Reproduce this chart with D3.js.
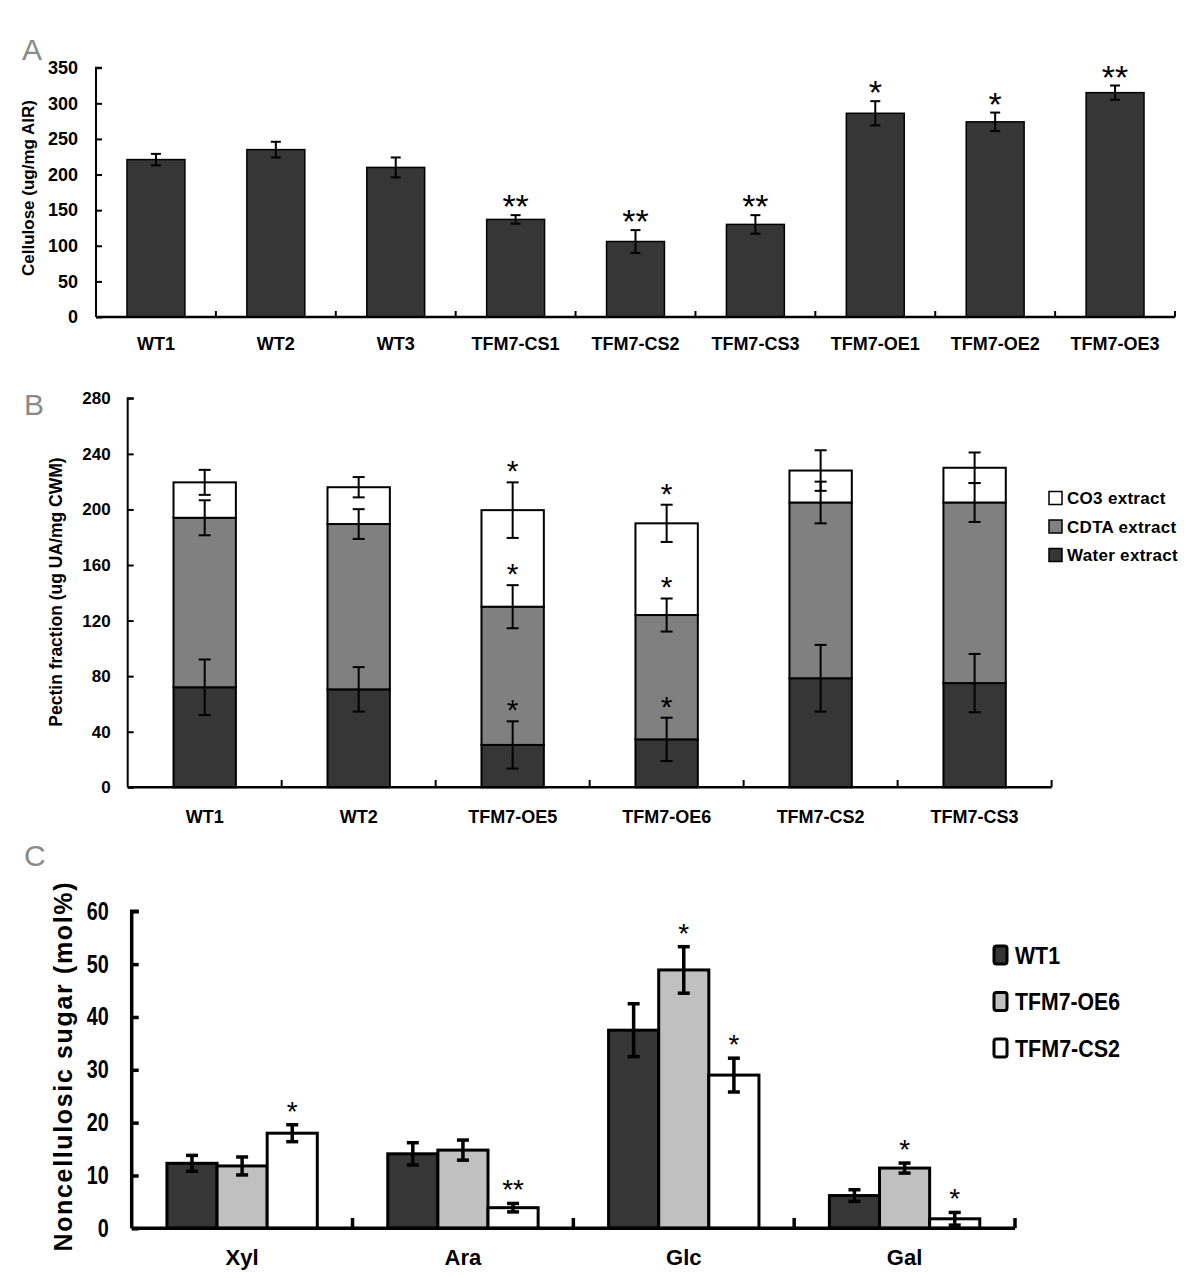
<!DOCTYPE html>
<html><head><meta charset="utf-8">
<script src="https://cdn.jsdelivr.net/npm/d3@7"></script>
<style>
body{margin:0;background:#fff;}
svg{display:block;}
text{font-family:"Liberation Sans",Arial,sans-serif;}
</style></head>
<body>
<svg id="chart" width="1200" height="1278"></svg>
<script>
// ---------- Panel A data ----------
const catA = ["WT1","WT2","WT3","TFM7-CS1","TFM7-CS2","TFM7-CS3","TFM7-OE1","TFM7-OE2","TFM7-OE3"];
const celluloseMean = [221,235,210,137,106,130,286,274,315];
const celluloseErr  = [8,11,14,6,16,13,17,13,10];
const celluloseSig  = ["","","","**","**","**","*","*","**"];
const ticksA = [0,50,100,150,200,250,300,350];

// ---------- Panel B data ----------
const catB = ["WT1","WT2","TFM7-OE5","TFM7-OE6","TFM7-CS2","TFM7-CS3"];
const seriesB = ["Water extract","CDTA extract","CO3 extract"];
const waterMean = [72,70.5,30.5,34.5,78.5,75];
const waterErr  = [20,16,17,15.6,24,21];
const cdtaMean  = [122,119,99.5,89.5,126.5,130];
const cdtaErr   = [12.6,10.7,15.5,11.9,15,14];
const co3Mean   = [25.5,26.5,69.5,66,23,25];
const co3Err    = [9,7.3,20,13.4,14.6,11];
const sigB      = ["","","*","*","",""];
const ticksB = [0,40,80,120,160,200,240,280];

// ---------- Panel C data ----------
const sugars = ["Xyl","Ara","Glc","Gal"];
const seriesC = ["WT1","TFM7-OE6","TFM7-CS2"];
const wt1Mean = [12.3,14.1,37.5,6.2];
const wt1Err  = [1.5,2.1,5.0,1.1];
const oe6Mean = [11.8,14.8,48.9,11.4];
const oe6Err  = [1.7,1.9,4.4,0.95];
const cs2Mean = [18.0,3.9,29.0,1.8];
const cs2Err  = [1.6,0.8,3.2,1.2];
const wt1Sig = ["","","",""];
const oe6Sig = ["","","*","*"];
const cs2Sig = ["*","**","*","*"];
const ticksC = [0,10,20,30,40,50,60];

const svg = d3.select("#chart");
const DARK = "#363636", MID = "#808080", LIGHT = "#c0c0c0";
const boldFont = '"Liberation Sans",Arial,sans-serif';

function panelLetter(t, x, y, size){
  svg.append("text").attr("x",x).attr("y",y).text(t)
    .attr("font-size",size).attr("fill","#8a8a8a").attr("font-family",'"Open Sans","DejaVu Sans",sans-serif').attr("font-weight",300);
}

// =============== Panel A ===============
{
  const x = d3.scaleBand().domain(catA).range([96,1175]).paddingInner(0.517).paddingOuter(0.2585);
  const y = d3.scaleLinear().domain([0,350]).range([317,67.7]);
  const g = svg.append("g");
  panelLetter("A", 22, 60, 30);
  g.selectAll("rect.bar").data(catA).join("rect")
    .attr("x",d=>x(d)).attr("width",x.bandwidth())
    .attr("y",(d,i)=>y(celluloseMean[i])).attr("height",(d,i)=>y(0)-y(celluloseMean[i]))
    .attr("fill",DARK).attr("stroke","#000").attr("stroke-width",1.5);
  catA.forEach((d,i)=>{
    const cx = x(d)+x.bandwidth()/2, y1=y(celluloseMean[i]+celluloseErr[i]), y2=y(celluloseMean[i]-celluloseErr[i]);
    g.append("line").attr("x1",cx).attr("x2",cx).attr("y1",y1).attr("y2",y2).attr("stroke","#000").attr("stroke-width",2);
    [y1,y2].forEach(yy=>g.append("line").attr("x1",cx-5).attr("x2",cx+5).attr("y1",yy).attr("y2",yy).attr("stroke","#000").attr("stroke-width",2));
    if(celluloseSig[i]) g.append("text").attr("x",cx).attr("y",y1+3).attr("text-anchor","middle")
      .attr("font-size",34).text(celluloseSig[i]);
  });
  const ya = g.append("g").attr("transform","translate(96,0)")
    .call(d3.axisRight(y).tickValues(ticksA).tickSize(6).tickFormat(d3.format("d")));
  ya.select(".domain").attr("stroke-width",2).attr("d","M6,67.7H0V317");
  ya.selectAll(".tick line").attr("stroke-width",2);
  ya.selectAll(".tick text").attr("x",-18).attr("text-anchor","end").attr("font-size",18).attr("font-weight","bold").attr("font-family",boldFont).attr("fill","#000");
  const xa = g.append("g").attr("transform","translate(0,317)")
    .call(d3.axisBottom(x).tickSize(0).tickPadding(20));
  xa.select(".domain").attr("stroke-width",2.5).attr("d","M96,0H1175");
  xa.selectAll(".tick text").attr("font-size",18).attr("font-weight","bold").attr("font-family",boldFont).attr("fill","#000").attr("dy","0.72em");
  const boundsA = catA.map(d=>x(d)+x.bandwidth()/2+x.step()/2);
  g.selectAll("line.bt").data(boundsA).join("line").attr("x1",d=>d).attr("x2",d=>d).attr("y1",317).attr("y2",311).attr("stroke","#000").attr("stroke-width",2);
  g.append("text").attr("transform","translate(34,188) rotate(-90)").attr("text-anchor","middle")
    .attr("font-size",17).attr("font-weight","bold").text("Cellulose (ug/mg AIR)");
}

// =============== Panel B ===============
{
  const x = d3.scaleBand().domain(catB).range([127.7,1051.6]).paddingInner(0.595).paddingOuter(0.2975);
  const y = d3.scaleLinear().domain([0,280]).range([787.3,398.3]);
  const g = svg.append("g");
  panelLetter("B", 24, 415, 30);
  const fills = [DARK, MID, "#fff"];
  const errs = [waterErr, cdtaErr, co3Err];
  const stackData = catB.map((c,i)=>({cat:c, "Water extract":waterMean[i], "CDTA extract":cdtaMean[i], "CO3 extract":co3Mean[i]}));
  const stacked = d3.stack().keys(seriesB)(stackData);
  stacked.forEach((layer,k)=>{
    g.selectAll("rect.s"+k).data(layer).join("rect")
      .attr("x",d=>x(d.data.cat)).attr("width",x.bandwidth())
      .attr("y",d=>y(d[1])).attr("height",d=>y(d[0])-y(d[1]))
      .attr("fill",fills[k]).attr("stroke","#000").attr("stroke-width",2);
  });
  stacked.forEach((layer,k)=>{
    layer.forEach((d,i)=>{
      const cx = x(d.data.cat)+x.bandwidth()/2;
      const y1 = y(d[1]+errs[k][i]), y2 = y(d[1]-errs[k][i]);
      g.append("line").attr("x1",cx).attr("x2",cx).attr("y1",y1).attr("y2",y2).attr("stroke","#000").attr("stroke-width",2);
      [y1,y2].forEach(yy=>g.append("line").attr("x1",cx-6).attr("x2",cx+6).attr("y1",yy).attr("y2",yy).attr("stroke","#000").attr("stroke-width",2));
      if(sigB[i]) g.append("text").attr("x",cx).attr("y",y1-1).attr("text-anchor","middle").attr("font-size",30).text(sigB[i]);
    });
  });
  const ya = g.append("g").attr("transform","translate(127.7,0)")
    .call(d3.axisRight(y).tickValues(ticksB).tickSize(6).tickFormat(d3.format("d")));
  ya.select(".domain").attr("stroke-width",2).attr("d","M6,398.3H0V787.3");
  ya.selectAll(".tick line").attr("stroke-width",2);
  ya.selectAll(".tick text").attr("x",-17).attr("text-anchor","end").attr("font-size",17).attr("font-weight","bold").attr("font-family",boldFont).attr("fill","#000");
  const xa = g.append("g").attr("transform","translate(0,787.3)")
    .call(d3.axisBottom(x).tickSize(0).tickPadding(23));
  xa.select(".domain").attr("stroke-width",2.5).attr("d","M127.7,0H1051.6");
  xa.selectAll(".tick text").attr("font-size",18).attr("font-weight","bold").attr("font-family",boldFont).attr("fill","#000").attr("dy","0.72em");
  const boundsB = catB.map(d=>x(d)+x.bandwidth()/2+x.step()/2);
  g.selectAll("line.bt").data(boundsB).join("line").attr("x1",d=>d).attr("x2",d=>d).attr("y1",787.3).attr("y2",780).attr("stroke","#000").attr("stroke-width",2);
  g.append("text").attr("transform","translate(62,592) rotate(-90)").attr("text-anchor","middle")
    .attr("font-size",17.5).attr("font-weight","bold").text("Pectin fraction (ug UA/mg CWM)");
  const legOrder = ["CO3 extract","CDTA extract","Water extract"];
  const legFill = {"CO3 extract":"#fff","CDTA extract":MID,"Water extract":DARK};
  const ly = d3.scalePoint().domain(legOrder).range([498,555]);
  legOrder.forEach(k=>{
    g.append("rect").attr("x",1049).attr("y",ly(k)-6.5).attr("width",13).attr("height",13).attr("fill",legFill[k]).attr("stroke","#000").attr("stroke-width",1.5);
    g.append("text").attr("x",1067).attr("y",ly(k)+6).attr("font-size",17).attr("font-weight","bold").attr("letter-spacing",0.3).text(k);
  });
}

// =============== Panel C ===============
{
  const x = d3.scaleBand().domain(sugars).range([131.7,1015]).paddingInner(0.319).paddingOuter(0.1595);
  const xi = d3.scaleBand().domain(seriesC).range([0,x.bandwidth()]).padding(0);
  const y = d3.scaleLinear().domain([0,60]).range([1228.3,911.3]);
  const g = svg.append("g");
  panelLetter("C", 24, 866, 30);
  const means = [wt1Mean, oe6Mean, cs2Mean];
  const errs = [wt1Err, oe6Err, cs2Err];
  const sigs = [wt1Sig, oe6Sig, cs2Sig];
  const fills = [DARK, LIGHT, "#fff"];
  seriesC.forEach((s,k)=>{
    g.selectAll("rect.c"+k).data(sugars).join("rect")
      .attr("x",d=>x(d)+xi(s)).attr("width",xi.bandwidth())
      .attr("y",(d,i)=>y(means[k][i])).attr("height",(d,i)=>y(0)-y(means[k][i]))
      .attr("fill",fills[k]).attr("stroke","#000").attr("stroke-width",3);
  });
  seriesC.forEach((s,k)=>{
    sugars.forEach((d,i)=>{
      const cx = x(d)+xi(s)+xi.bandwidth()/2;
      const y1 = y(means[k][i]+errs[k][i]), y2 = y(means[k][i]-errs[k][i]);
      g.append("line").attr("x1",cx).attr("x2",cx).attr("y1",y1).attr("y2",y2).attr("stroke","#000").attr("stroke-width",3.5);
      [y1,y2].forEach(yy=>g.append("line").attr("x1",cx-6).attr("x2",cx+6).attr("y1",yy).attr("y2",yy).attr("stroke","#000").attr("stroke-width",3.5));
      if(sigs[k][i]) g.append("text").attr("x",cx).attr("y",y1-4).attr("text-anchor","middle").attr("font-size",28).text(sigs[k][i]);
    });
  });
  const ya = g.append("g").attr("transform","translate(131.7,0)")
    .call(d3.axisRight(y).tickValues(ticksC).tickSize(7).tickFormat(d3.format("d")));
  ya.select(".domain").attr("stroke-width",3.5).attr("d","M7,911.3H0V1228.3");
  ya.selectAll(".tick line").attr("stroke-width",3.5);
  ya.selectAll(".tick text").attr("x",-23).attr("text-anchor","end").attr("font-size",25).attr("font-weight","bold").attr("font-family",boldFont).attr("fill","#000")
    .attr("textLength",d=>String(d).length*11).attr("lengthAdjust","spacingAndGlyphs");
  const xa = g.append("g").attr("transform","translate(0,1228.3)")
    .call(d3.axisBottom(x).tickSize(0).tickPadding(21));
  xa.select(".domain").attr("stroke-width",3.5).attr("d","M131.7,0H1015");
  xa.selectAll(".tick text").attr("font-size",22).attr("font-weight","bold").attr("font-family",boldFont).attr("fill","#000").attr("dy","0.72em");
  const boundsC = sugars.map(d=>x(d)+x.bandwidth()/2+x.step()/2);
  g.selectAll("line.bt").data(boundsC).join("line").attr("x1",d=>d).attr("x2",d=>d).attr("y1",1228.3).attr("y2",1218).attr("stroke","#000").attr("stroke-width",3.5);
  g.append("text").attr("transform","translate(72,1067) rotate(-90)").attr("text-anchor","middle")
    .attr("font-size",25).attr("font-weight","bold")
    .attr("textLength",369).attr("lengthAdjust","spacing").text("Noncellulosic  sugar (mol%)");
  const ly = d3.scalePoint().domain(seriesC).range([955,1048]);
  const legW = [45,105,105];
  seriesC.forEach((s,k)=>{
    g.append("rect").attr("x",994).attr("y",ly(s)-9).attr("width",13).attr("height",18).attr("rx",2.5)
      .attr("fill",fills[k]).attr("stroke","#000").attr("stroke-width",3);
    g.append("text").attr("x",1015).attr("y",ly(s)+8.5).attr("font-size",23).attr("font-weight","bold")
      .attr("textLength",legW[k]).attr("lengthAdjust","spacingAndGlyphs").text(s);
  });
}
</script>
</body></html>
